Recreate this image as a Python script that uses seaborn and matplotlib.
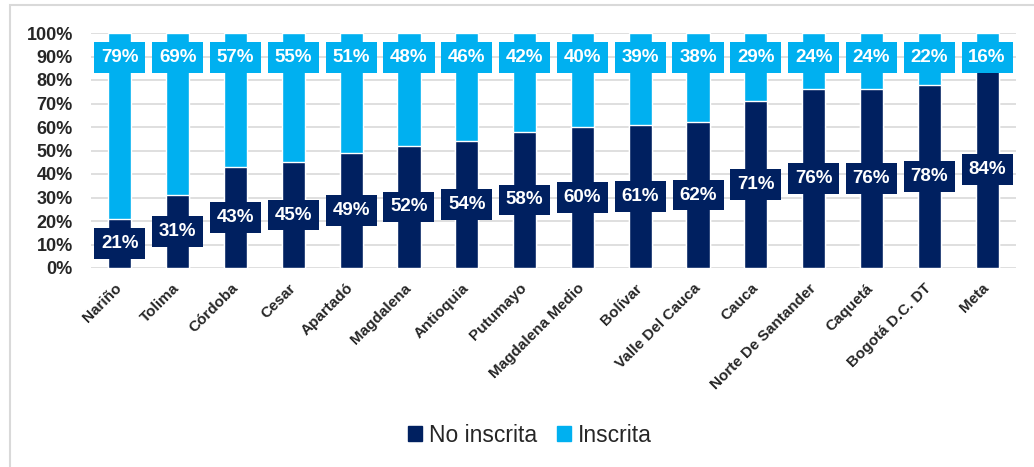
import matplotlib
matplotlib.use("Agg")
import matplotlib.pyplot as plt
import matplotlib.patches as mpatches
import seaborn as sns
import pandas as pd

regiones = ["Nariño", "Tolima", "Córdoba", "Cesar", "Apartadó", "Magdalena",
            "Antioquia", "Putumayo", "Magdalena Medio", "Bolívar",
            "Valle Del Cauca", "Cauca", "Norte De Santander", "Caquetá",
            "Bogotá D.C. DT", "Meta"]
no_inscrita = [21, 31, 43, 45, 49, 52, 54, 58, 60, 61, 62, 71, 76, 76, 78, 84]
inscrita = [79, 69, 57, 55, 51, 48, 46, 42, 40, 39, 38, 29, 24, 24, 22, 16]
yticks = list(range(0, 101, 10))

DARK = "#002060"
LIGHT = "#00b0f0"

sns.set_theme(style="white")
plt.rcParams['font.family'] = ['Liberation Sans', 'DejaVu Sans']

df = pd.DataFrame({"region": regiones, "no": no_inscrita, "ins": inscrita})
df["total"] = df["no"] + df["ins"]

fig = plt.figure(figsize=(10.34, 4.67), dpi=100)
ax = fig.add_axes([91 / 1034, 1 - 268 / 467, 925 / 1034, 235 / 467])

# stacked bars: total (light) underneath, no inscrita (dark) on top
sns.barplot(data=df, x="region", y="total", color=LIGHT, width=0.4,
            saturation=1, ax=ax, zorder=2)
sns.barplot(data=df, x="region", y="no", color=DARK, width=0.4,
            saturation=1, ax=ax, zorder=3)

ax.set_xlim(-0.5, len(regiones) - 0.5)
ax.set_ylim(0, 100)
ax.set_yticks(yticks)
ax.set_yticklabels([f"{v}%" for v in yticks], fontsize=13, fontweight='bold')
ax.yaxis.grid(True, color="#d9d9d9", lw=1.2, zorder=0)
ax.set_axisbelow(True)
for s in ax.spines.values():
    s.set_visible(False)
ax.tick_params(axis='both', length=0)
ax.tick_params(axis='y', pad=13)
ax.set_xlabel("")
ax.set_ylabel("")

ax.set_xticks(range(len(regiones)))
ax.set_xticklabels(regiones, rotation=45, ha='right', va='center',
                   rotation_mode='anchor', fontsize=11, fontweight='bold')
ax.tick_params(axis='x', pad=13)

# data labels
for i, (n, v) in enumerate(zip(df["no"], df["ins"])):
    ax.annotate(f"{n}%", xy=(i, n / 2), ha='center', va='center',
                color='white', fontsize=13.5, fontweight='bold', zorder=5,
                bbox=dict(boxstyle='square,pad=0.36', fc=DARK, ec='none'))
    ax.annotate(f"{v}%", xy=(i, 100), xytext=(0, -17.5),
                textcoords='offset points', ha='center', va='center',
                color='white', fontsize=13.5, fontweight='bold', zorder=5,
                bbox=dict(boxstyle='square,pad=0.36', fc=LIGHT, ec='none'))

handles = [mpatches.Patch(color=DARK, label="No inscrita"),
           mpatches.Patch(color=LIGHT, label="Inscrita")]
fig.legend(handles=handles, loc='center', bbox_to_anchor=(530 / 1034, 1 - 435 / 467),
           ncol=2, frameon=False, fontsize=16.5, handlelength=0.6,
           handleheight=0.6, handletextpad=0.3, columnspacing=0.9)

# outer frame
fig.patches.append(mpatches.Rectangle((10 / 1034, -0.1), 1.2, 1.1 - 5 / 467,
                                      transform=fig.transFigure, fill=False,
                                      ec="#d9d9d9", lw=1.5))

fig.savefig("out.png", dpi=100)
